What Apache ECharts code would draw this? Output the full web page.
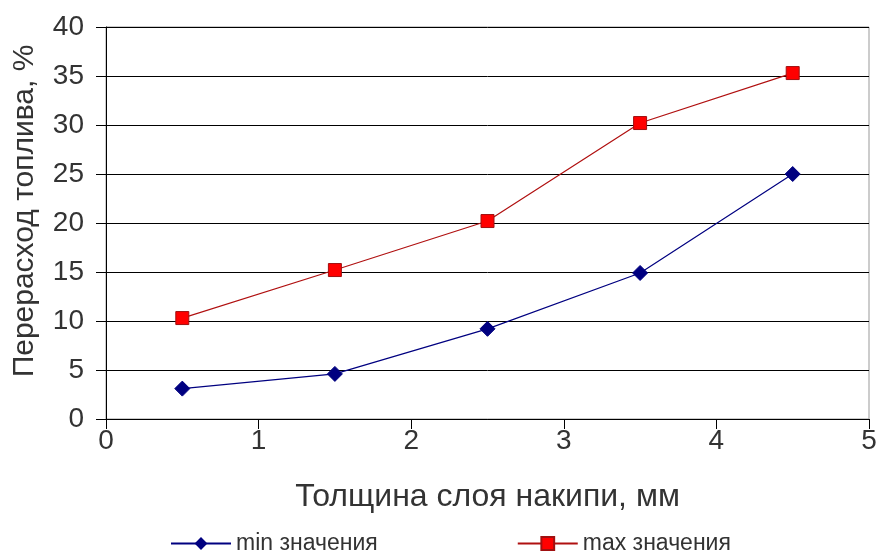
<!DOCTYPE html>
<html><head><meta charset="utf-8">
<script src="https://cdn.jsdelivr.net/npm/echarts@6/dist/echarts.min.js"></script>
<style>html,body{margin:0;padding:0;background:#fff}#c{width:880px;height:555px}</style>
</head><body><div id="c"></div>
<script>
const xValues = [0.5, 1.5, 2.5, 3.5, 4.5];
const minValues = [3.1, 4.6, 9.2, 14.9, 25.0];
const maxValues = [10.3, 15.2, 20.2, 30.2, 35.3];
const seriesNames = ['min значения', 'max значения'];
const xAxisName = 'Толщина слоя накипи, мм';
const yAxisName = 'Перерасход топлива, %';

const font = '"Liberation Sans", Arial, sans-serif';
const txt = '#333';
const chart = echarts.init(document.getElementById('c'));
chart.setOption({
  animation: false,
  backgroundColor: '#fff',
  textStyle: {fontFamily: font},
  grid: {left: 106, right: 11, top: 27, bottom: 136, show: true, borderColor: '#999', borderWidth: 1},
  legend: {
    top: 532, left: 170, itemGap: 139, itemWidth: 60, itemHeight: 16, padding: 0,
    textStyle: {fontSize: 23, color: txt, fontFamily: font},
    data: seriesNames
  },
  xAxis: {
    type: 'value', min: 0, max: 5, interval: 1,
    name: xAxisName, nameLocation: 'middle', nameGap: 62,
    nameTextStyle: {fontSize: 32, color: txt, fontFamily: font},
    axisLine: {lineStyle: {color: '#000', width: 1}},
    axisTick: {show: true, length: 10, lineStyle: {color: '#000'}},
    axisLabel: {fontSize: 28, color: txt, margin: 8, fontFamily: font},
    splitLine: {show: false}
  },
  yAxis: {
    type: 'value', min: 0, max: 40, interval: 5,
    name: yAxisName, nameLocation: 'middle', nameGap: 66, nameRotate: 90,
    nameTextStyle: {fontSize: 30, color: txt, fontFamily: font, padding: [0, 0, 0, 24]},
    axisLine: {show: true, lineStyle: {color: '#000', width: 1}},
    axisTick: {show: true, length: 10, lineStyle: {color: '#000'}},
    axisLabel: {fontSize: 28, color: txt, margin: 22, fontFamily: font},
    splitLine: {show: true, lineStyle: {color: '#000', width: 1}}
  },
  series: [
    {
      name: seriesNames[0], type: 'line',
      data: xValues.map((x, i) => [x, minValues[i]]),
      symbol: 'diamond', symbolSize: 15,
      lineStyle: {color: '#000080', width: 1.2},
      itemStyle: {color: '#000080', borderColor: '#000080'}
    },
    {
      name: seriesNames[1], type: 'line',
      data: xValues.map((x, i) => [x, maxValues[i]]),
      symbol: 'rect', symbolSize: 13,
      lineStyle: {color: '#b01010', width: 1.2},
      itemStyle: {color: '#ff0000', borderColor: '#a01010', borderWidth: 1}
    }
  ]
});
</script></body></html>
